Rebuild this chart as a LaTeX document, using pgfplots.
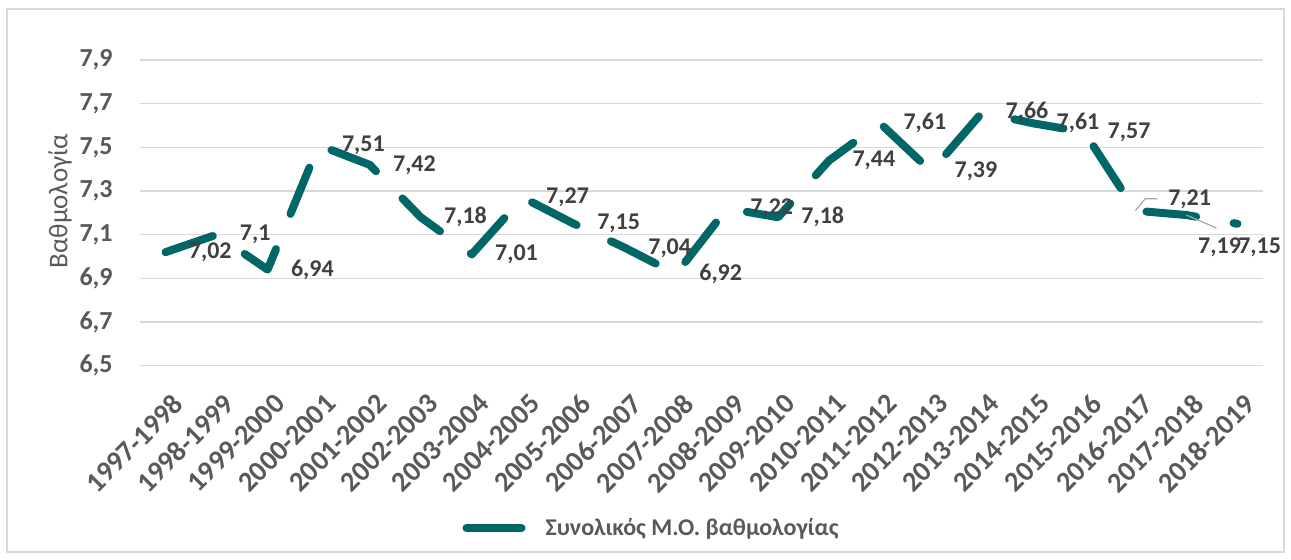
\documentclass[border=0pt]{standalone}
\usepackage{pgfplots}
\pgfplotsset{compat=1.18}
\usepackage{pgfplotstable}
\usepackage{fontspec}
\setmainfont{Carlito}
\definecolor{lineteal}{HTML}{006666}
\definecolor{gridgray}{HTML}{D9D9D9}
\definecolor{tickgray}{HTML}{595959}
\definecolor{labelgray}{HTML}{404040}
\definecolor{leadgray}{HTML}{A6A6A6}

\pgfplotstableread{
x y label
0 7.02 {7,02}
1 7.10 {7,1}
2 6.94 {6,94}
3 7.51 {7,51}
4 7.42 {7,42}
5 7.18 {7,18}
6 7.01 {7,01}
7 7.27 {7,27}
8 7.15 {7,15}
9 7.04 {7,04}
10 6.92 {6,92}
11 7.22 {7,22}
12 7.18 {7,18}
13 7.44 {7,44}
14 7.61 {7,61}
15 7.39 {7,39}
16 7.66 {7,66}
17 7.61 {7,61}
18 7.57 {7,57}
19 7.21 {7,21}
20 7.19 {7,19}
21 7.15 {7,15}
}\datatable

\pgfplotstableread{
x y label
0 7.02 {7,02}
1 7.10 {7,1}
2 6.94 {6,94}
3 7.51 {7,51}
4 7.42 {7,42}
5 7.18 {7,18}
6 7.01 {7,01}
7 7.27 {7,27}
8 7.15 {7,15}
9 7.04 {7,04}
10 6.92 {6,92}
11 7.22 {7,22}
12 7.18 {7,18}
13 7.44 {7,44}
14 7.61 {7,61}
15 7.39 {7,39}
16 7.66 {7,66}
17 7.61 {7,61}
18 7.57 {7,57}
}\labeltable

\begin{document}
\begin{tikzpicture}
\begin{axis}[
  name=ax,
  scale only axis,
  width=561.5pt, height=152.85pt,
  xmin=-0.5, xmax=21.5,
  ymin=6.5, ymax=7.9,
  ytick={6.5,6.7,6.9,7.1,7.3,7.5,7.7,7.9},
  xtick={0,...,21},
  xticklabels={1997-1998,1998-1999,1999-2000,2000-2001,2001-2002,2002-2003,2003-2004,2004-2005,2005-2006,2006-2007,2007-2008,2008-2009,2009-2010,2010-2011,2011-2012,2012-2013,2013-2014,2014-2015,2015-2016,2016-2017,2017-2018,2018-2019},
  axis line style={draw=none},
  major tick length=0pt,
  ymajorgrids,
  grid style={gridgray, line width=0.75pt},
  /pgf/number format/assume math mode=true,
  /pgf/number format/use comma,
  /pgf/number format/fixed,
  /pgf/number format/precision=1,
  /pgf/number format/fixed zerofill,
  yticklabel style={font=\bfseries\fontsize{13}{15}\selectfont, text=tickgray, inner sep=0pt, anchor=east, xshift=-13.5pt},
  xticklabel style={font=\bfseries\fontsize{14.2}{16}\selectfont, text=tickgray, inner sep=0pt, xshift=2.75pt, yshift=-13.15pt, rotate=45, anchor=north east},
  ylabel={Βαθμολογία},
  ylabel style={at={(axis description cs:-0.0712,0.539)}, anchor=center, rotate=0, font=\fontsize{13.5}{15}\selectfont, text=tickgray},
  clip=false,
  legend style={at={(axis description cs:0.4564,-0.531)}, anchor=center, draw=none, fill=none,
    font=\bfseries\fontsize{12}{14}\selectfont, text=tickgray,
    /tikz/every odd column/.append style={column sep=8pt}},
]
\addplot[lineteal, line width=4pt, line cap=round, line join=round,
  dash pattern=on 25pt off 19pt,
  legend image code/.code={\draw[solid, lineteal, line width=4pt, line cap=round] (0pt,0pt) -- (27.5pt,0pt);}]
  table[x=x, y=y] {\datatable};
\addlegendentry{Συνολικός Μ.Ο. βαθμολογίας}

\addplot[draw=none, forget plot, nodes near coords, point meta=explicit symbolic,
  every node near coord/.style={anchor=west, inner sep=0pt, xshift=11.5pt, text=labelgray, font=\bfseries\fontsize{12}{14}\selectfont}]
  table[x=x, y=y, meta=label] {\labeltable};

\addplot[draw=none, forget plot, nodes near coords, point meta=explicit symbolic,
  every node near coord/.style={anchor=west, inner sep=0pt, xshift=16.25pt, yshift=5.5pt, text=labelgray, font=\bfseries\fontsize{12}{14}\selectfont}]
  coordinates {(19,7.21) [7,21]};
\addplot[draw=none, forget plot, nodes near coords, point meta=explicit symbolic,
  every node near coord/.style={anchor=west, inner sep=0pt, xshift=5.7pt, yshift=-16.35pt, text=labelgray, font=\bfseries\fontsize{12}{14}\selectfont}]
  coordinates {(20,7.19) [7,19]};
\addplot[draw=none, forget plot, nodes near coords, point meta=explicit symbolic,
  every node near coord/.style={anchor=west, inner sep=0pt, xshift=0.2pt, yshift=-12pt, text=labelgray, font=\bfseries\fontsize{12}{14}\selectfont}]
  coordinates {(21,7.15) [7,15]};

\draw[leadgray, line width=0.6pt] ([shift={(0pt,0pt)}]axis cs:19,7.21) -- ([shift={(5pt,6pt)}]axis cs:19,7.21) -- ([shift={(11pt,6pt)}]axis cs:19,7.21);
\draw[leadgray, line width=0.6pt] ([shift={(0pt,0pt)}]axis cs:20,7.19) -- ([shift={(15pt,-6.5pt)}]axis cs:20,7.19);
\end{axis}
\draw[gridgray, line width=0.75pt] ([shift={(-66.5pt,-93.15pt)}]ax.south west) rectangle ([shift={(10.5pt,25.5pt)}]ax.north east);
\path[use as bounding box] ([shift={(-70pt,-96.65pt)}]ax.south west) rectangle ([shift={(14pt,30pt)}]ax.north east);
\end{tikzpicture}
\end{document}
